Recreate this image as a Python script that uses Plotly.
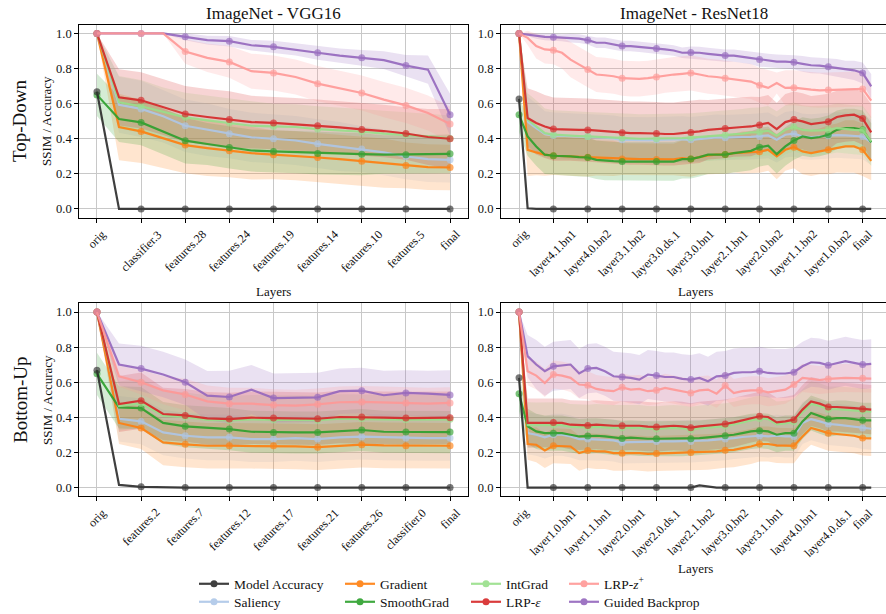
import plotly.graph_objects as go

# ---------------- tick labels ----------------
VGG_TD_TICKS = ["orig", "classifier.3", "features.28", "features.24", "features.19",
                "features.14", "features.10", "features.5", "final"]
VGG_BU_TICKS = ["orig", "features.2", "features.7", "features.12", "features.17",
                "features.21", "features.26", "classifier.0", "final"]
RES_TD_TICKS = ["orig", "layer4.1.bn1", "layer4.0.bn2", "layer3.1.bn2", "layer3.0.ds.1",
                "layer3.0.bn1", "layer2.1.bn1", "layer2.0.bn2", "layer1.1.bn2", "layer1.0.bn2", "final"]
RES_BU_TICKS = ["orig", "layer1.0.bn1", "layer1.1.bn1", "layer2.0.bn1", "layer2.0.ds.1",
                "layer2.1.bn2", "layer3.0.bn2", "layer3.1.bn1", "layer4.0.bn1", "layer4.0.ds.1", "final"]

SERIES = ["Model Accuracy", "Saliency", "Gradient", "SmoothGrad", "IntGrad",
          "LRP-ε", "LRP-z+", "Guided Backprop"]

# ---------------- VGG16 top-down (17 steps) ----------------
VGG_TD_ACC = [0.668, 0, 0, 0, 0, 0, 0, 0, 0, 0, 0, 0, 0, 0, 0, 0, 0]
VGG_TD_SAL = [1.0, 0.594, 0.570, 0.528, 0.474, 0.451, 0.429, 0.408, 0.400, 0.390, 0.371, 0.356, 0.341, 0.322, 0.299, 0.284, 0.280]
VGG_TD_GRAD = [1.0, 0.467, 0.442, 0.404, 0.364, 0.347, 0.331, 0.318, 0.309, 0.303, 0.293, 0.284, 0.272, 0.261, 0.248, 0.238, 0.236]
VGG_TD_SMOOTH = [0.650, 0.512, 0.493, 0.442, 0.389, 0.370, 0.350, 0.333, 0.328, 0.324, 0.316, 0.314, 0.312, 0.310, 0.309, 0.312, 0.314]
VGG_TD_INTG = [1.0, 0.608, 0.585, 0.552, 0.522, 0.505, 0.490, 0.474, 0.470, 0.467, 0.455, 0.448, 0.440, 0.429, 0.423, 0.413, 0.402]
VGG_TD_LRPE = [1.0, 0.636, 0.619, 0.581, 0.541, 0.524, 0.510, 0.495, 0.490, 0.482, 0.474, 0.465, 0.453, 0.444, 0.430, 0.410, 0.400]
VGG_TD_LRPZ = [1.0, 1.0, 1.0, 1.0, 0.897, 0.861, 0.838, 0.785, 0.775, 0.752, 0.714, 0.686, 0.661, 0.623, 0.590, 0.547, 0.484]
VGG_TD_GBP = [1.0, 1.0, 1.0, 1.0, 0.981, 0.962, 0.956, 0.933, 0.924, 0.909, 0.890, 0.874, 0.861, 0.848, 0.817, 0.794, 0.537]

VGG_TD_SAL_SD = [0, 0.16, 0.16, 0.15, 0.15, 0.15, 0.14, 0.14, 0.14, 0.14, 0.14, 0.14, 0.13, 0.13, 0.13, 0.13, 0.13]
VGG_TD_GRAD_SD = [0, 0.19, 0.18, 0.17, 0.16, 0.16, 0.15, 0.15, 0.14, 0.14, 0.14, 0.14, 0.14, 0.14, 0.13, 0.13, 0.13]
VGG_TD_SMOOTH_SD = [0.12, 0.13, 0.13, 0.13, 0.13, 0.12, 0.12, 0.12, 0.12, 0.12, 0.12, 0.12, 0.12, 0.11, 0.11, 0.11, 0.11]
VGG_TD_INTG_SD = [0, 0.15, 0.15, 0.14, 0.14, 0.14, 0.14, 0.14, 0.13, 0.13, 0.13, 0.13, 0.13, 0.13, 0.13, 0.13, 0.13]
VGG_TD_LRPE_SD = [0, 0.16, 0.16, 0.16, 0.16, 0.16, 0.16, 0.15, 0.15, 0.15, 0.15, 0.15, 0.15, 0.15, 0.15, 0.16, 0.17]
VGG_TD_LRPZ_SD = [0, 0, 0, 0, 0.07, 0.08, 0.09, 0.10, 0.10, 0.10, 0.10, 0.10, 0.10, 0.10, 0.10, 0.10, 0.10]
VGG_TD_GBP_SD = [0, 0, 0, 0, 0.02, 0.025, 0.03, 0.03, 0.035, 0.035, 0.04, 0.04, 0.045, 0.05, 0.06, 0.08, 0.12]

# ---------------- VGG16 bottom-up (17 steps) ----------------
VGG_BU_ACC = [0.669, 0.015, 0.004, 0, 0, 0, 0, 0, 0, 0, 0, 0, 0, 0, 0, 0, 0]
VGG_BU_SAL = [1.0, 0.392, 0.377, 0.314, 0.295, 0.286, 0.286, 0.276, 0.276, 0.282, 0.276, 0.286, 0.290, 0.286, 0.282, 0.282, 0.282]
VGG_BU_GRAD = [1.0, 0.368, 0.339, 0.257, 0.246, 0.238, 0.238, 0.238, 0.238, 0.234, 0.230, 0.238, 0.244, 0.240, 0.238, 0.238, 0.238]
VGG_BU_SMOOTH = [0.648, 0.457, 0.453, 0.368, 0.349, 0.339, 0.333, 0.318, 0.314, 0.314, 0.314, 0.322, 0.328, 0.318, 0.316, 0.316, 0.316]
VGG_BU_INTG = [1.0, 0.465, 0.480, 0.410, 0.402, 0.386, 0.382, 0.388, 0.386, 0.385, 0.384, 0.392, 0.392, 0.389, 0.387, 0.387, 0.389]
VGG_BU_LRPE = [1.0, 0.476, 0.495, 0.419, 0.411, 0.394, 0.390, 0.398, 0.396, 0.394, 0.392, 0.402, 0.402, 0.398, 0.396, 0.396, 0.398]
VGG_BU_LRPZ = [1.0, 0.634, 0.600, 0.554, 0.530, 0.491, 0.478, 0.478, 0.470, 0.467, 0.474, 0.486, 0.488, 0.486, 0.482, 0.478, 0.482]
VGG_BU_GBP = [1.0, 0.701, 0.678, 0.644, 0.600, 0.524, 0.516, 0.558, 0.510, 0.510, 0.514, 0.549, 0.552, 0.526, 0.539, 0.535, 0.528]

VGG_BU_SAL_SD = [0, 0.13, 0.13, 0.13, 0.13, 0.13, 0.13, 0.13, 0.13, 0.13, 0.13, 0.13, 0.13, 0.13, 0.13, 0.13, 0.13]
VGG_BU_GRAD_SD = [0, 0.12, 0.12, 0.13, 0.13, 0.13, 0.13, 0.13, 0.13, 0.13, 0.13, 0.13, 0.13, 0.13, 0.13, 0.13, 0.13]
VGG_BU_SMOOTH_SD = [0.12, 0.12, 0.12, 0.12, 0.12, 0.12, 0.12, 0.12, 0.12, 0.12, 0.12, 0.12, 0.12, 0.12, 0.12, 0.12, 0.12]
VGG_BU_INTG_SD = [0, 0.14, 0.14, 0.14, 0.14, 0.14, 0.14, 0.14, 0.14, 0.14, 0.14, 0.14, 0.14, 0.14, 0.14, 0.14, 0.14]
VGG_BU_LRPE_SD = [0, 0.16, 0.16, 0.15, 0.15, 0.15, 0.15, 0.15, 0.15, 0.15, 0.15, 0.15, 0.15, 0.15, 0.15, 0.15, 0.15]
VGG_BU_LRPZ_SD = [0, 0.06, 0.07, 0.08, 0.09, 0.09, 0.09, 0.09, 0.09, 0.09, 0.09, 0.09, 0.09, 0.09, 0.09, 0.09, 0.09]
VGG_BU_GBP_SD = [0, 0.12, 0.13, 0.13, 0.13, 0.14, 0.15, 0.14, 0.14, 0.14, 0.14, 0.13, 0.13, 0.14, 0.13, 0.13, 0.14]

# ---------------- ResNet18 top-down (42 steps) ----------------
RES_TD_ACC = [0.627, 0.004, 0, 0, 0, 0, 0, 0, 0, 0, 0, 0, 0, 0, 0, 0, 0, 0, 0, 0, 0,
              0, 0, 0, 0, 0, 0, 0, 0, 0, 0, 0, 0, 0, 0, 0, 0, 0, 0, 0, 0, 0]
RES_TD_SAL = [1.0, 0.499, 0.461, 0.427, 0.419, 0.417, 0.413, 0.413, 0.413, 0.410, 0.406, 0.402, 0.394, 0.394,
              0.392, 0.392, 0.394, 0.396, 0.398, 0.398, 0.394, 0.400, 0.404, 0.408, 0.406, 0.410, 0.410, 0.411,
              0.413, 0.419, 0.394, 0.423, 0.429, 0.413, 0.410, 0.413, 0.417, 0.421, 0.419, 0.417, 0.413, 0.379]
RES_TD_GRAD = [1.0, 0.337, 0.322, 0.309, 0.303, 0.299, 0.299, 0.297, 0.295, 0.291, 0.290, 0.288, 0.284, 0.284,
               0.284, 0.284, 0.282, 0.282, 0.282, 0.290, 0.284, 0.295, 0.305, 0.309, 0.310, 0.318, 0.322, 0.326,
               0.326, 0.337, 0.299, 0.337, 0.352, 0.328, 0.318, 0.328, 0.337, 0.347, 0.356, 0.356, 0.337, 0.274]
RES_TD_SMOOTH = [0.537, 0.413, 0.356, 0.309, 0.303, 0.303, 0.299, 0.295, 0.293, 0.280, 0.274, 0.272, 0.270, 0.270,
                 0.270, 0.270, 0.270, 0.270, 0.270, 0.284, 0.284, 0.295, 0.309, 0.310, 0.310, 0.318, 0.324, 0.331,
                 0.352, 0.360, 0.312, 0.356, 0.390, 0.413, 0.404, 0.410, 0.423, 0.451, 0.461, 0.461, 0.451, 0.379]
RES_TD_INTG = [1.0, 0.509, 0.470, 0.432, 0.423, 0.419, 0.417, 0.415, 0.413, 0.410, 0.408, 0.406, 0.404, 0.402,
               0.400, 0.400, 0.400, 0.400, 0.402, 0.404, 0.406, 0.410, 0.413, 0.417, 0.421, 0.423, 0.429, 0.436,
               0.438, 0.446, 0.417, 0.451, 0.467, 0.451, 0.446, 0.448, 0.451, 0.461, 0.455, 0.451, 0.448, 0.385]
RES_TD_LRPE = [1.0, 0.518, 0.490, 0.470, 0.455, 0.455, 0.455, 0.451, 0.450, 0.446, 0.442, 0.440, 0.434, 0.432,
               0.432, 0.432, 0.430, 0.427, 0.427, 0.432, 0.436, 0.442, 0.451, 0.455, 0.459, 0.467, 0.467, 0.470,
               0.478, 0.490, 0.455, 0.495, 0.509, 0.499, 0.484, 0.490, 0.497, 0.524, 0.533, 0.537, 0.516, 0.436]
RES_TD_LRPZ = [1.0, 0.975, 0.928, 0.909, 0.905, 0.890, 0.851, 0.823, 0.794, 0.766, 0.762, 0.756, 0.745, 0.741,
               0.741, 0.745, 0.752, 0.762, 0.766, 0.770, 0.775, 0.766, 0.756, 0.752, 0.745, 0.741, 0.733, 0.726,
               0.705, 0.690, 0.718, 0.690, 0.691, 0.684, 0.680, 0.676, 0.678, 0.680, 0.680, 0.682, 0.684, 0.617]
RES_TD_GBP = [1.0, 0.994, 0.985, 0.981, 0.979, 0.975, 0.973, 0.971, 0.962, 0.947, 0.947, 0.937, 0.928, 0.928,
              0.924, 0.920, 0.914, 0.909, 0.903, 0.890, 0.891, 0.890, 0.884, 0.878, 0.874, 0.874, 0.867, 0.859,
              0.851, 0.844, 0.840, 0.840, 0.836, 0.827, 0.819, 0.817, 0.810, 0.804, 0.794, 0.790, 0.775, 0.699]

RES_TD_SAL_SD = [0, 0.14, 0.14, 0.13, 0.13, 0.13, 0.13, 0.13, 0.13, 0.13, 0.13, 0.13, 0.13, 0.13,
                 0.13, 0.13, 0.13, 0.13, 0.13, 0.13, 0.13, 0.13, 0.13, 0.13, 0.13, 0.13, 0.13, 0.13,
                 0.13, 0.13, 0.13, 0.13, 0.13, 0.13, 0.13, 0.13, 0.13, 0.13, 0.13, 0.13, 0.13, 0.13]
RES_TD_GRAD_SD = [0, 0.15, 0.13, 0.12, 0.11, 0.11, 0.11, 0.11, 0.11, 0.10, 0.10, 0.10, 0.09, 0.09,
                  0.09, 0.09, 0.09, 0.09, 0.09, 0.10, 0.10, 0.10, 0.11, 0.11, 0.11, 0.11, 0.12, 0.12,
                  0.12, 0.12, 0.13, 0.12, 0.12, 0.13, 0.13, 0.13, 0.14, 0.14, 0.15, 0.15, 0.15, 0.11]
RES_TD_SMOOTH_SD = [0.10, 0.11, 0.11, 0.11, 0.11, 0.11, 0.11, 0.11, 0.11, 0.11, 0.11, 0.11, 0.11, 0.11,
                    0.11, 0.11, 0.11, 0.11, 0.11, 0.11, 0.11, 0.11, 0.11, 0.11, 0.11, 0.11, 0.11, 0.11,
                    0.11, 0.11, 0.11, 0.11, 0.11, 0.11, 0.11, 0.11, 0.11, 0.11, 0.11, 0.11, 0.11, 0.11]
RES_TD_INTG_SD = [0, 0.15, 0.15, 0.14, 0.14, 0.14, 0.14, 0.14, 0.14, 0.14, 0.14, 0.14, 0.14, 0.14,
                  0.14, 0.14, 0.14, 0.14, 0.14, 0.14, 0.14, 0.14, 0.14, 0.14, 0.14, 0.14, 0.14, 0.14,
                  0.14, 0.14, 0.14, 0.14, 0.14, 0.14, 0.14, 0.14, 0.14, 0.14, 0.14, 0.14, 0.14, 0.14]
RES_TD_LRPE_SD = [0, 0.17, 0.18, 0.18, 0.18, 0.18, 0.18, 0.18, 0.18, 0.18, 0.18, 0.18, 0.18, 0.18,
                  0.18, 0.18, 0.18, 0.18, 0.18, 0.18, 0.18, 0.18, 0.17, 0.17, 0.17, 0.17, 0.17, 0.17,
                  0.16, 0.16, 0.15, 0.16, 0.16, 0.16, 0.16, 0.16, 0.16, 0.15, 0.15, 0.15, 0.15, 0.16]
RES_TD_LRPZ_SD = [0, 0.04, 0.07, 0.08, 0.08, 0.09, 0.10, 0.10, 0.10, 0.10, 0.10, 0.10, 0.10, 0.10,
                  0.10, 0.10, 0.10, 0.10, 0.10, 0.10, 0.10, 0.10, 0.10, 0.10, 0.10, 0.10, 0.10, 0.10,
                  0.10, 0.10, 0.06, 0.10, 0.10, 0.10, 0.10, 0.10, 0.10, 0.10, 0.10, 0.10, 0.10, 0.10]
RES_TD_GBP_SD = [0, 0.01, 0.015, 0.02, 0.02, 0.02, 0.025, 0.025, 0.025, 0.03, 0.03, 0.03, 0.03, 0.03,
                 0.03, 0.03, 0.03, 0.03, 0.03, 0.03, 0.035, 0.035, 0.035, 0.035, 0.035, 0.035, 0.035, 0.035,
                 0.04, 0.04, 0.04, 0.04, 0.04, 0.045, 0.045, 0.045, 0.05, 0.05, 0.05, 0.055, 0.06, 0.07]

# ---------------- ResNet18 bottom-up (42 steps) ----------------
RES_BU_ACC = [0.625, 0, 0, 0, 0, 0, 0, 0, 0, 0, 0, 0, 0, 0, 0, 0, 0, 0, 0, 0, 0,
              0.012, 0.004, 0, 0, 0, 0, 0, 0, 0, 0, 0, 0, 0, 0, 0, 0, 0, 0, 0, 0, 0]
RES_BU_SAL = [1.0, 0.310, 0.301, 0.286, 0.301, 0.301, 0.291, 0.276, 0.276, 0.276, 0.272, 0.269, 0.257, 0.259,
              0.261, 0.261, 0.263, 0.263, 0.263, 0.263, 0.263, 0.267, 0.269, 0.272, 0.276, 0.282, 0.288, 0.291,
              0.295, 0.291, 0.295, 0.291, 0.291, 0.368, 0.390, 0.377, 0.362, 0.358, 0.352, 0.349, 0.339, 0.335]
RES_BU_GRAD = [1.0, 0.248, 0.244, 0.211, 0.238, 0.234, 0.234, 0.196, 0.211, 0.206, 0.206, 0.196, 0.196, 0.200,
               0.196, 0.192, 0.194, 0.196, 0.196, 0.200, 0.200, 0.200, 0.202, 0.206, 0.213, 0.215, 0.225, 0.234,
               0.248, 0.248, 0.240, 0.238, 0.238, 0.291, 0.339, 0.326, 0.310, 0.305, 0.301, 0.295, 0.282, 0.280]
RES_BU_SMOOTH = [0.535, 0.349, 0.320, 0.310, 0.310, 0.310, 0.301, 0.291, 0.293, 0.295, 0.291, 0.286, 0.280, 0.284,
                 0.280, 0.278, 0.278, 0.278, 0.278, 0.278, 0.278, 0.282, 0.286, 0.291, 0.295, 0.301, 0.310, 0.320,
                 0.324, 0.320, 0.301, 0.310, 0.310, 0.377, 0.425, 0.406, 0.390, 0.396, 0.396, 0.390, 0.383, 0.383]
RES_BU_INTG = [1.0, 0.356, 0.355, 0.356, 0.357, 0.356, 0.346, 0.342, 0.342, 0.346, 0.342, 0.340, 0.340, 0.342,
               0.340, 0.335, 0.333, 0.337, 0.340, 0.337, 0.330, 0.337, 0.340, 0.346, 0.350, 0.359, 0.370, 0.383,
               0.394, 0.390, 0.360, 0.365, 0.375, 0.430, 0.476, 0.465, 0.446, 0.446, 0.444, 0.440, 0.436, 0.432]
RES_BU_LRPE = [1.0, 0.368, 0.368, 0.368, 0.370, 0.368, 0.358, 0.354, 0.354, 0.358, 0.354, 0.352, 0.352, 0.354,
               0.352, 0.347, 0.345, 0.349, 0.352, 0.349, 0.341, 0.349, 0.352, 0.358, 0.362, 0.371, 0.383, 0.396,
               0.406, 0.402, 0.371, 0.377, 0.387, 0.444, 0.490, 0.478, 0.459, 0.459, 0.457, 0.453, 0.448, 0.444]
RES_BU_LRPZ = [1.0, 0.663, 0.638, 0.596, 0.644, 0.638, 0.625, 0.587, 0.583, 0.562, 0.554, 0.549, 0.571, 0.558,
               0.562, 0.549, 0.554, 0.568, 0.558, 0.549, 0.539, 0.554, 0.558, 0.535, 0.581, 0.539, 0.549, 0.554,
               0.554, 0.543, 0.549, 0.558, 0.587, 0.625, 0.619, 0.613, 0.619, 0.623, 0.625, 0.623, 0.623, 0.621]
RES_BU_GBP = [1.0, 0.749, 0.701, 0.663, 0.691, 0.695, 0.701, 0.650, 0.678, 0.682, 0.663, 0.634, 0.630, 0.625,
              0.615, 0.644, 0.638, 0.630, 0.630, 0.619, 0.615, 0.625, 0.606, 0.634, 0.638, 0.653, 0.657, 0.657,
              0.663, 0.653, 0.650, 0.650, 0.657, 0.691, 0.714, 0.710, 0.697, 0.710, 0.720, 0.710, 0.701, 0.705]

RES_BU_SAL_SD = [0, 0.12, 0.12, 0.12, 0.12, 0.12, 0.12, 0.12, 0.12, 0.12, 0.12, 0.12, 0.12, 0.12,
                 0.12, 0.12, 0.12, 0.12, 0.12, 0.12, 0.12, 0.12, 0.12, 0.12, 0.12, 0.12, 0.12, 0.12,
                 0.12, 0.12, 0.12, 0.12, 0.12, 0.12, 0.12, 0.12, 0.12, 0.12, 0.12, 0.12, 0.12, 0.12]
RES_BU_GRAD_SD = [0, 0.09, 0.10, 0.10, 0.10, 0.10, 0.10, 0.10, 0.10, 0.10, 0.10, 0.10, 0.10, 0.10,
                  0.10, 0.10, 0.10, 0.10, 0.10, 0.10, 0.10, 0.10, 0.10, 0.10, 0.10, 0.10, 0.10, 0.10,
                  0.10, 0.10, 0.10, 0.10, 0.10, 0.09, 0.095, 0.10, 0.10, 0.10, 0.10, 0.10, 0.10, 0.10]
RES_BU_SMOOTH_SD = [0.10, 0.10, 0.10, 0.10, 0.10, 0.10, 0.10, 0.10, 0.10, 0.10, 0.10, 0.10, 0.10, 0.10,
                    0.10, 0.10, 0.10, 0.10, 0.10, 0.10, 0.10, 0.10, 0.10, 0.10, 0.10, 0.10, 0.10, 0.10,
                    0.10, 0.10, 0.10, 0.10, 0.10, 0.10, 0.10, 0.10, 0.10, 0.10, 0.10, 0.10, 0.10, 0.10]
RES_BU_INTG_SD = [0, 0.13, 0.13, 0.13, 0.13, 0.13, 0.13, 0.13, 0.13, 0.13, 0.13, 0.13, 0.13, 0.13,
                  0.13, 0.13, 0.13, 0.13, 0.13, 0.13, 0.13, 0.13, 0.13, 0.13, 0.13, 0.13, 0.13, 0.13,
                  0.13, 0.13, 0.13, 0.13, 0.13, 0.13, 0.13, 0.13, 0.13, 0.13, 0.13, 0.13, 0.13, 0.13]
RES_BU_LRPE_SD = [0, 0.14, 0.14, 0.14, 0.14, 0.14, 0.14, 0.14, 0.14, 0.14, 0.14, 0.14, 0.14, 0.14,
                  0.14, 0.14, 0.14, 0.14, 0.14, 0.14, 0.14, 0.14, 0.14, 0.14, 0.14, 0.14, 0.14, 0.14,
                  0.14, 0.14, 0.14, 0.14, 0.14, 0.14, 0.14, 0.14, 0.14, 0.14, 0.14, 0.14, 0.14, 0.14]
RES_BU_LRPZ_SD = [0, 0.08, 0.08, 0.08, 0.08, 0.08, 0.08, 0.08, 0.08, 0.08, 0.08, 0.08, 0.08, 0.08,
                  0.08, 0.08, 0.08, 0.08, 0.08, 0.08, 0.08, 0.08, 0.08, 0.08, 0.08, 0.08, 0.08, 0.08,
                  0.08, 0.08, 0.08, 0.08, 0.08, 0.08, 0.08, 0.08, 0.08, 0.08, 0.08, 0.08, 0.08, 0.08]
RES_BU_GBP_SD = [0, 0.12, 0.14, 0.14, 0.14, 0.14, 0.14, 0.14, 0.14, 0.14, 0.14, 0.14, 0.14, 0.14,
                 0.14, 0.14, 0.14, 0.14, 0.14, 0.14, 0.14, 0.14, 0.14, 0.14, 0.14, 0.14, 0.14, 0.14,
                 0.14, 0.14, 0.14, 0.14, 0.14, 0.14, 0.14, 0.14, 0.14, 0.14, 0.14, 0.14, 0.14, 0.14]

# ---------------- styling ----------------
W, H = 886, 614
FONT = "Liberation Serif"
TICK_FS = 12
COLORS = {
    "Model Accuracy": "#2b2b2b", "Saliency": "#aec7e8", "Gradient": "#ff7f0e",
    "SmoothGrad": "#2ca02c", "IntGrad": "#98df8a", "LRP-ε": "#d62728",
    "LRP-z+": "#ff9896", "Guided Backprop": "#9467bd",
}
LEGEND_TEXT = {
    "Model Accuracy": "Model Accuracy", "Saliency": "Saliency", "Gradient": "Gradient",
    "SmoothGrad": "SmoothGrad", "IntGrad": "IntGrad", "LRP-ε": "LRP-<i>ε</i>",
    "LRP-z+": "LRP-<i>z</i><sup>+</sup>", "Guided Backprop": "Guided Backprop",
}
DRAW_ORDER = ["Saliency", "Gradient", "SmoothGrad", "IntGrad", "LRP-ε",
              "Guided Backprop", "LRP-z+", "Model Accuracy"]

# approximate advance widths (per 1000 em) of a Times-like serif, for label placement
CHAR_W = {c: 500 for c in "bdghknopquvxy0123456789"}
CHAR_W.update({"a": 444, "c": 444, "e": 444, "z": 444, "f": 333, "r": 333, "i": 278,
               "j": 278, "l": 278, "t": 278, "s": 389, "m": 778, "w": 722, ".": 250})


def text_width(t, fs):
    return sum(CHAR_W.get(c, 500) for c in t) * fs / 1000.0


def rgba(hexc, a):
    h = hexc.lstrip("#")
    return "rgba(%d,%d,%d,%.3f)" % (int(h[0:2], 16), int(h[2:4], 16), int(h[4:6], 16), a)


def px_x(p):
    return p / W


def px_y(p):
    return 1 - p / H


PANELS = [
    dict(ax="", means=[VGG_TD_ACC, VGG_TD_SAL, VGG_TD_GRAD, VGG_TD_SMOOTH, VGG_TD_INTG, VGG_TD_LRPE, VGG_TD_LRPZ, VGG_TD_GBP],
         sds=[None, VGG_TD_SAL_SD, VGG_TD_GRAD_SD, VGG_TD_SMOOTH_SD, VGG_TD_INTG_SD, VGG_TD_LRPE_SD, VGG_TD_LRPZ_SD, VGG_TD_GBP_SD],
         ticks=VGG_TD_TICKS, step=2, xdom=(79.3, 467.7), ydom=(24.7, 217.7), xr=[-0.8, 16.8]),
    dict(ax="2", means=[RES_TD_ACC, RES_TD_SAL, RES_TD_GRAD, RES_TD_SMOOTH, RES_TD_INTG, RES_TD_LRPE, RES_TD_LRPZ, RES_TD_GBP],
         sds=[None, RES_TD_SAL_SD, RES_TD_GRAD_SD, RES_TD_SMOOTH_SD, RES_TD_INTG_SD, RES_TD_LRPE_SD, RES_TD_LRPZ_SD, RES_TD_GBP_SD],
         ticks=RES_TD_TICKS, step=4, xdom=(501.0, 886.0), ydom=(24.7, 217.7), xr=[-2.1, 42.72]),
    dict(ax="3", means=[VGG_BU_ACC, VGG_BU_SAL, VGG_BU_GRAD, VGG_BU_SMOOTH, VGG_BU_INTG, VGG_BU_LRPE, VGG_BU_LRPZ, VGG_BU_GBP],
         sds=[None, VGG_BU_SAL_SD, VGG_BU_GRAD_SD, VGG_BU_SMOOTH_SD, VGG_BU_INTG_SD, VGG_BU_LRPE_SD, VGG_BU_LRPZ_SD, VGG_BU_GBP_SD],
         ticks=VGG_BU_TICKS, step=2, xdom=(79.3, 467.7), ydom=(303.3, 496.3), xr=[-0.8, 16.8]),
    dict(ax="4", means=[RES_BU_ACC, RES_BU_SAL, RES_BU_GRAD, RES_BU_SMOOTH, RES_BU_INTG, RES_BU_LRPE, RES_BU_LRPZ, RES_BU_GBP],
         sds=[None, RES_BU_SAL_SD, RES_BU_GRAD_SD, RES_BU_SMOOTH_SD, RES_BU_INTG_SD, RES_BU_LRPE_SD, RES_BU_LRPZ_SD, RES_BU_GBP_SD],
         ticks=RES_BU_TICKS, step=4, xdom=(501.0, 886.0), ydom=(303.3, 496.3), xr=[-2.1, 42.72]),
]

fig = go.Figure()

for p in PANELS:
    xa, ya = "x" + p["ax"], "y" + p["ax"]
    means = dict(zip(SERIES, p["means"]))
    sds = dict(zip(SERIES, p["sds"]))
    n = len(p["means"][0])
    xs = list(range(n))
    # bands
    for name in DRAW_ORDER:
        sd = sds[name]
        if sd is None:
            continue
        m = means[name]
        up = [a + b for a, b in zip(m, sd)]
        lo = [a - b for a, b in zip(m, sd)]
        fig.add_trace(go.Scatter(
            x=xs + xs[::-1], y=up + lo[::-1], xaxis=xa, yaxis=ya,
            fill="toself", fillcolor=rgba(COLORS[name], 0.2), line=dict(width=0),
            mode="lines", hoverinfo="skip", showlegend=False))
    # lines with markers on labelled steps
    sizes = [7 if i % p["step"] == 0 and i // p["step"] < len(p["ticks"]) else 0 for i in xs]
    for name in DRAW_ORDER:
        fig.add_trace(go.Scatter(
            x=xs, y=means[name], xaxis=xa, yaxis=ya, mode="lines+markers",
            line=dict(color=COLORS[name], width=2.2),
            marker=dict(color=COLORS[name], size=sizes, line=dict(width=0)),
            opacity=0.9, showlegend=False, name=name))

# legend entries: 4 columns x 2 rows, one small legend per entry
LEGEND_POS = {
    "Model Accuracy": (194, 584), "Saliency": (194, 602),
    "Gradient": (340, 584), "SmoothGrad": (340, 602),
    "IntGrad": (466, 584), "LRP-ε": (466, 602),
    "LRP-z+": (564, 584), "Guided Backprop": (564, 602),
}

layout = dict(
    width=W, height=H, margin=dict(l=0, r=0, t=0, b=0, autoexpand=False),
    paper_bgcolor="white", plot_bgcolor="white",
    font=dict(family=FONT, color="#111111", size=12),
)

for k, name in enumerate(SERIES):
    lg = "legend" if k == 0 else "legend%d" % (k + 1)
    fig.add_trace(go.Scatter(
        x=[None], y=[None], mode="lines+markers", name=LEGEND_TEXT[name],
        line=dict(color=COLORS[name], width=2.2), marker=dict(color=COLORS[name], size=7),
        opacity=0.9, legend=lg, showlegend=True))
    lx, ly = LEGEND_POS[name]
    layout[lg] = dict(x=px_x(lx), y=px_y(ly), xanchor="left", yanchor="middle",
                      orientation="v", bgcolor="rgba(255,255,255,0)", borderwidth=0,
                      font=dict(family=FONT, size=13.5, color="#111111"),
                      tracegroupgap=0, itemwidth=30)

for p in PANELS:
    xk = "xaxis" + p["ax"]
    yk = "yaxis" + p["ax"]
    right = p["ax"] in ("2", "4")
    layout[xk] = dict(
        domain=[px_x(p["xdom"][0]), px_x(p["xdom"][1])], anchor="y" + p["ax"],
        range=p["xr"], tickmode="array",
        tickvals=[i * p["step"] for i in range(len(p["ticks"]))], ticktext=p["ticks"],
        showticklabels=False, showgrid=True, gridcolor="#c8c8c8", gridwidth=1,
        showline=True, linecolor="black", linewidth=1.2, mirror=True,
        ticks="outside", ticklen=4, tickcolor="black", zeroline=False)
    layout[yk] = dict(
        domain=[px_y(p["ydom"][1]), px_y(p["ydom"][0])], anchor="x" + p["ax"],
        range=[-0.05, 1.05], tickmode="array", tickvals=[0, 0.2, 0.4, 0.6, 0.8, 1.0],
        ticktext=["0.0", "0.2", "0.4", "0.6", "0.8", "1.0"],
        showgrid=True, gridcolor="#c8c8c8", gridwidth=1,
        showline=True, linecolor="black", linewidth=1.2, mirror=(not right),
        ticks="outside", ticklen=4, tickcolor="black",
        tickfont=dict(family=FONT, size=12.5, color="#111111"), zeroline=False)

fig.update_layout(**layout)

ann = []

# rotated x tick labels, centred under their tick (matplotlib style)
for p in PANELS:
    top = p["ydom"][1] + 10.5
    for i, lab in enumerate(p["ticks"]):
        w = text_width(lab, TICK_FS)
        h = TICK_FS * 0.95
        cy = top + (w + h) * 0.3536
        ann.append(dict(text=lab, x=i * p["step"], y=px_y(cy), xref="x" + p["ax"], yref="paper",
                        showarrow=False, textangle=-45, xanchor="center", yanchor="middle",
                        font=dict(family=FONT, size=TICK_FS, color="#111111")))


def text_at(t, x, y, size, angle=0):
    ann.append(dict(text=t, x=px_x(x), y=px_y(y), xref="paper", yref="paper",
                    showarrow=False, textangle=angle, xanchor="center", yanchor="middle",
                    font=dict(family=FONT, size=size, color="#111111")))


text_at("ImageNet - VGG16", 273, 13, 17)
text_at("ImageNet - ResNet18", 694, 13, 17)
text_at("Top-Down", 20, 121, 19, -90)
text_at("Bottom-Up", 20, 400, 19, -90)
text_at("SSIM / Accuracy", 47, 121, 13, -90)
text_at("SSIM / Accuracy", 47, 400, 13, -90)
text_at("Layers", 273, 291, 13)
text_at("Layers", 695, 291, 13)
text_at("Layers", 695, 568, 13)
fig.update_layout(annotations=ann)

fig.write_html("out.html")
